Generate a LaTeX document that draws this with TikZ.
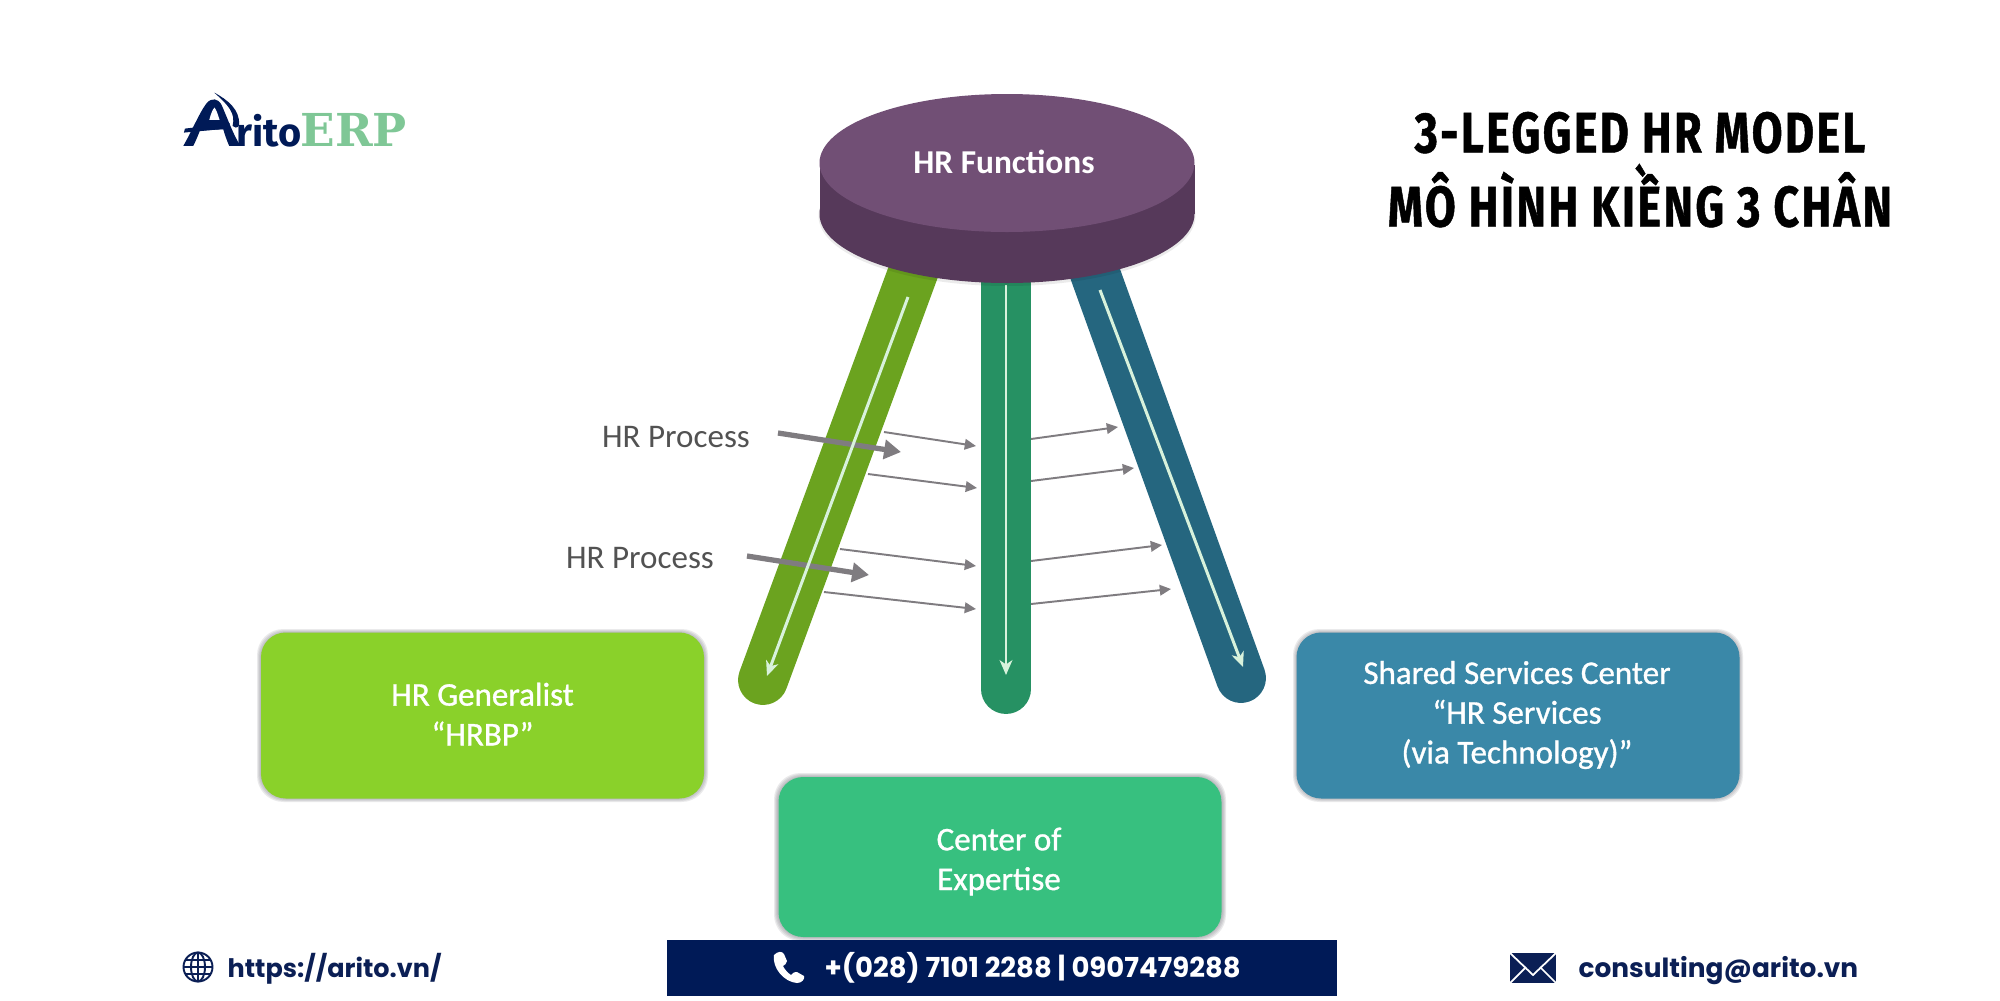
\documentclass[tikz,border=0pt]{standalone}
\usepackage{fontspec}
\usetikzlibrary{arrows.meta,shapes.geometric}
\setmainfont{Carlito}
\newfontfamily\boxfont[FakeBold=1.0]{Carlito}
\newfontfamily\footfont{Poppins}
\newfontfamily\titlefont[FakeStretch=0.78,LetterSpace=4.2,BoldFeatures={FakeBold=0.8}]{Fira Sans}
\newfontfamily\logoserif{DejaVu Serif}
\newfontfamily\logosans{Fira Sans}
\definecolor{navy}{HTML}{001A57}
\definecolor{navytext}{HTML}{0B1F55}
\definecolor{seattop}{HTML}{714F75}
\definecolor{seatside}{HTML}{56395A}
\definecolor{legleft}{HTML}{6BA31F}
\definecolor{legmid}{HTML}{269163}
\definecolor{legright}{HTML}{25667F}
\definecolor{boxleft}{HTML}{8AD12A}
\definecolor{boxmid}{HTML}{37C07F}
\definecolor{boxright}{HTML}{3A88A8}
\definecolor{flow}{HTML}{7F7C80}
\definecolor{inner}{HTML}{D8F2DC}
\definecolor{logogreen}{HTML}{7FC796}
\definecolor{edgeblur}{HTML}{707078}
\tikzset{
  leg/.style={line width=14.2pt,line cap=round},
  innerarrow/.style={draw=inner,line width=0.85pt,-{Stealth[length=4.2pt,width=3.6pt,inset=1.2pt]}},
  thinflow/.style={draw=flow,line width=0.55pt,-{Triangle[length=3.2pt,width=3pt]}},
  thickflow/.style={draw=flow,line width=1.5pt,-{Triangle[length=4.8pt,width=5.4pt]}},
  procelabel/.style={text=black!68,font=\fontsize{9.4pt}{11pt}\selectfont,inner sep=0pt},
  hrbox/.style={rectangle,rounded corners=7pt,minimum width=44.3mm,minimum height=16.6mm,inner sep=0pt},
  hrtext/.style={text=white,align=center,inner sep=0pt,font=\boxfont\fontsize{9.4pt}{11.3pt}\selectfont},
  foot/.style={inner sep=0pt},
  titleline/.style={font=\titlefont\bfseries\fontsize{16.3pt}{20pt}\selectfont,text=black,inner sep=0pt,anchor=base},
}
\newcommand{\softedge}[4]{%
  \foreach \g in {4,3,2,1}{%
    \fill[edgeblur,opacity=0.14,rounded corners=7.5pt] (#1-\g*1,#2-\g*1) rectangle (#3+\g*1,#4+\g*1);}%
}
\begin{document}
\begin{tikzpicture}[x=0.1mm,y=-0.1mm]
\fill[white] (0,0) rectangle (2000,1000);
\useasboundingbox (0,0) rectangle (2000,1000);

% logo
\begin{scope}[shift={(150,70)},x=0.0333mm,y=-0.0333mm]
  \fill[navy] (100,228) .. controls (125,185) and (150,125) .. (170,100) .. controls (185,82) and (205,85) .. (215,105)
     .. controls (235,150) and (250,195) .. (272,228) -- (238,228) .. controls (230,210) and (225,195) .. (220,178)
     -- (150,182) .. controls (145,195) and (138,212) .. (130,228) -- cycle;
  \fill[white] (178,150) .. controls (183,130) and (190,115) .. (194,113) .. controls (200,120) and (205,138) .. (209,150) -- cycle;
  \fill[navy] (105,176) -- (240,160) -- (232,176) -- (102,188) -- cycle;
  \fill[navy] (193,68) .. controls (235,90) and (270,120) .. (268,165) .. controls (262,178) and (252,172) .. (248,168)
     .. controls (258,130) and (235,105) .. (193,68) -- cycle;
\end{scope}
\node[inner sep=0pt,anchor=base west,text=navy,font=\logosans\bfseries\fontsize{11.3pt}{14pt}\selectfont] (logorito) at (236,146) {rito};
\node[inner sep=0pt,anchor=base west,text=logogreen,font=\logoserif\bfseries\fontsize{12.9pt}{15pt}\selectfont] (logoerp) at (300,146) {ERP};

% title
\node[titleline] (title1) at (1640,152.5) {3-LEGGED HR MODEL};
\node[titleline] (title2) at (1640,226.5) {MÔ HÌNH KIỀNG 3 CHÂN};

% coordinates of the stool
\coordinate (lefttop) at (925,240);
\coordinate (leftfoot) at (763,680);
\coordinate (midtop) at (1006,240);
\coordinate (midfoot) at (1006,689);
\coordinate (righttop) at (1083,240);
\coordinate (rightfoot) at (1241,678);

% legs
\draw[leg,draw=legleft] (lefttop) -- (leftfoot);
\draw[leg,draw=legmid] (midtop) -- (midfoot);
\draw[leg,draw=legright] (righttop) -- (rightfoot);

% process arrows
\foreach \n/\ax/\ay/\bx/\by in {a/884/432/976/446,b/868/474/977/488,c/840/549/976/566,d/824/592/976/609,e/1031/439/1118/427,f/1031/481/1134/468,g/1031/561/1162/545,h/1031/604/1171/589}{
  \coordinate (\n1) at (\ax,\ay);
  \coordinate (\n2) at (\bx,\by);
  \draw[thinflow] (\n1) -- (\n2);
}

\coordinate (th1a) at (778,433);
\coordinate (th1b) at (901,452);
\coordinate (th2a) at (747,556);
\coordinate (th2b) at (869,575);
\draw[thickflow] (th1a) -- (th1b);
\draw[thickflow] (th2a) -- (th2b);

% inner arrows
\coordinate (inl1) at (908,297);
\coordinate (inl2) at (767,676);
\coordinate (inm1) at (1006,285);
\coordinate (inm2) at (1006,675);
\coordinate (inr1) at (1100,290);
\coordinate (inr2) at (1243,667);
\draw[innerarrow] (inl1) -- (inl2);
\draw[innerarrow] (inm1) -- (inm2);
\draw[innerarrow] (inr1) -- (inr2);

% seat
\fill[black,opacity=0.08] (1007,216) ellipse [x radius=188.5,y radius=70];
\fill[seatside] (819.5,165) rectangle (1194.5,214);
\fill[seatside] (1007,214) ellipse [x radius=187.5,y radius=69];
\node[ellipse,fill=seattop,minimum width=37.5mm,minimum height=13.8mm,inner sep=0pt] (seat) at (1007,163) {};
\node[text=white,inner sep=0pt,font=\bfseries\fontsize{9.5pt}{11pt}\selectfont] (seatlabel) at (1004,162) {HR Functions};

% labels
\node[procelabel] (p1) at (676,437) {HR Process};
\node[procelabel] (p2) at (640,558) {HR Process};

% boxes
\softedge{261}{633}{704}{798}
\node[hrbox,fill=boxleft] (generalist) at (482.5,715.5) {};
\node[hrtext] (generalisttext) at (482.5,714) {HR Generalist\\“HRBP”};
\softedge{1297}{633}{1739}{798}
\node[hrbox,fill=boxright] (shared) at (1518,715.5) {};
\node[hrtext] (sharedtext) at (1517,715) {Shared Services Center\\“HR Services\\(via Technology)”};
\softedge{778}{777}{1222}{937}
\node[hrbox,fill=boxmid,minimum height=16mm] (expertise) at (1000,857) {};
\node[hrtext] (expertisetext) at (999,861.5) {Center of\\Expertise};

% footer
\fill[navy] (667,940) rectangle (1337,996);
\node[foot,text=white,anchor=base west,font=\footfont\bfseries\fontsize{7.83pt}{9pt}\selectfont] (phone) at (824,977) {+(028) 7101 2288 | 0907479288};
\fill[white] (774,955) .. controls (778,951) and (782,951) .. (784,954) -- (787,961) .. controls (787,964) and (784,965) .. (783,966)
  .. controls (785,970) and (788,973) .. (791,975) .. controls (793,973) and (795,971) .. (797,972) -- (804,976)
  .. controls (805,979) and (802,983) .. (797,983) .. controls (784,982) and (772,968) .. (774,955) -- cycle;

\node[foot,text=navytext,anchor=base west,font=\footfont\bfseries\fontsize{7.25pt}{9pt}\selectfont] (web) at (227,977) {https://arito.vn/};
\begin{scope}[navytext,line width=0.55pt]
  \draw (198,967) circle (14.5);
  \draw (198,967) ellipse [x radius=7,y radius=14.5];
  \draw (198,952.5) -- (198,981.5);
  \draw (184,967) -- (212.5,967);
  \draw (186,960) -- (210,960);
  \draw (186,974) -- (210,974);
\end{scope}

\node[foot,text=navytext,anchor=base west,font=\footfont\bfseries\fontsize{7.5pt}{9pt}\selectfont] (mail) at (1578,977) {consulting@arito.vn};
\fill[navytext] (1510,953) rectangle (1556,983);
\draw[white,line width=0.5pt] (1510,953) -- (1533,975) -- (1556,953);
\draw[white,line width=0.5pt] (1510,983) -- (1526,967);
\draw[white,line width=0.5pt] (1556,983) -- (1540,967);
\end{tikzpicture}
\end{document}
